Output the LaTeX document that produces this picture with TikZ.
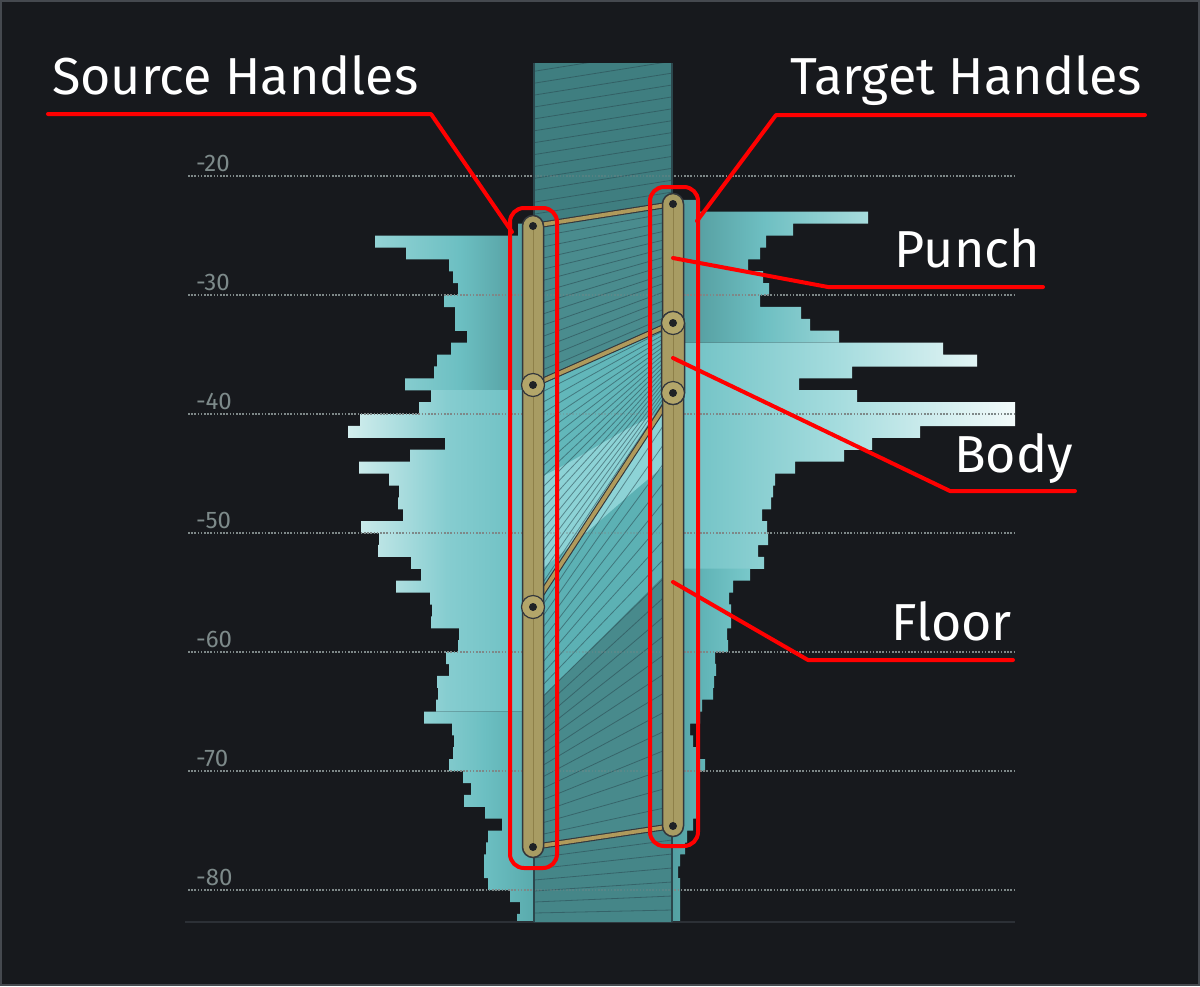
\documentclass[tikz,border=0pt]{standalone}
\usepackage{fontspec}
\setmainfont{Fira Sans}
\definecolor{bg}{HTML}{17191D}
\definecolor{framec}{HTML}{45494F}
\definecolor{gridc}{HTML}{7E8888}
\definecolor{tickc}{HTML}{7D8A8A}
\definecolor{basec}{HTML}{2C3036}
\definecolor{colTop}{HTML}{3F7E80}
\definecolor{colPunch}{HTML}{4A8C8E}
\definecolor{colBody}{HTML}{62B7BA}
\definecolor{colFloor}{HTML}{5CB1B4}
\definecolor{colBand}{HTML}{8DD3D6}
\definecolor{colDark}{HTML}{488A8C}
\definecolor{colBot}{HTML}{458688}
\definecolor{mapc}{HTML}{294850}
\definecolor{edgec}{HTML}{2B474D}
\definecolor{gold}{HTML}{A89C63}
\definecolor{goldl}{HTML}{B3A66A}
\definecolor{goldline}{HTML}{B09A5B}
\definecolor{goldc}{HTML}{8E8049}
\definecolor{darkc}{HTML}{33373C}
\definecolor{dotc}{HTML}{1F2226}
\definecolor{callred}{HTML}{FF0000}
% histogram shading colours
\definecolor{lta}{HTML}{93D3D5}\definecolor{ltb}{HTML}{6CBFC2}\definecolor{ltc}{HTML}{4B9193}
\definecolor{lma}{HTML}{D3EEEE}\definecolor{lmb}{HTML}{86CDD0}\definecolor{lmc}{HTML}{66BCBF}
\definecolor{lba}{HTML}{8FD1D3}\definecolor{lbb}{HTML}{6CBFC2}\definecolor{lbc}{HTML}{55A6A8}
\definecolor{rta}{HTML}{4A8F91}\definecolor{rtb}{HTML}{6EBFC2}\definecolor{rtc}{HTML}{A7DCDD}
\definecolor{rma}{HTML}{68BEC1}\definecolor{rmb}{HTML}{A5DCDE}\definecolor{rmc}{HTML}{F2FAFA}
\definecolor{rba}{HTML}{4D9799}\definecolor{rbb}{HTML}{62B5B8}\definecolor{rbc}{HTML}{78C8CA}
\pgfdeclarehorizontalshading{shLT}{100bp}{color(0bp)=(lta); color(25bp)=(lta); color(50bp)=(ltb); color(75bp)=(ltc); color(100bp)=(ltc)}
\pgfdeclarehorizontalshading{shLM}{100bp}{color(0bp)=(lma); color(25bp)=(lma); color(50bp)=(lmb); color(75bp)=(lmc); color(100bp)=(lmc)}
\pgfdeclarehorizontalshading{shLB}{100bp}{color(0bp)=(lba); color(25bp)=(lba); color(50bp)=(lbb); color(75bp)=(lbc); color(100bp)=(lbc)}
\pgfdeclarehorizontalshading{shRT}{100bp}{color(0bp)=(rta); color(25bp)=(rta); color(50bp)=(rtb); color(75bp)=(rtc); color(100bp)=(rtc)}
\pgfdeclarehorizontalshading{shRM}{100bp}{color(0bp)=(rma); color(25bp)=(rma); color(50bp)=(rmb); color(75bp)=(rmc); color(100bp)=(rmc)}
\pgfdeclarehorizontalshading{shRB}{100bp}{color(0bp)=(rba); color(25bp)=(rba); color(50bp)=(rbb); color(75bp)=(rbc); color(100bp)=(rbc)}
\tikzset{
  lbl/.style={text=white, inner sep=0pt, font=\fontsize{52}{60}\selectfont},
  ticklbl/.style={text=tickc, inner sep=0pt, font=\fontsize{24}{28}\selectfont},
  gridline/.style={draw=gridc, line width=1.6pt, dash pattern=on 1.6pt off 1.6pt},
  mapline/.style={draw=mapc, line width=0.8pt, opacity=0.55},
  callout/.style={draw=callred, line width=4pt, line cap=round, line join=round},
  hlbox/.style={draw=callred, line width=4pt, rounded corners=14pt},
  connout/.style={draw=darkc, line width=6pt, line cap=round},
  connin/.style={draw=goldline, line width=3.8pt, line cap=round},
  capsule/.style={fill=gold, draw=darkc, line width=1.5pt},
  handle/.style={circle, fill=goldl, draw=darkc, line width=1.2pt, minimum size=23pt, inner sep=0pt},
  hdot/.style={circle, fill=dotc, minimum size=8pt, inner sep=0pt},
}
\begin{document}
\begin{tikzpicture}[x=1pt, y=-1pt]
\useasboundingbox (0,0) rectangle (1200,986);
\fill[bg] (0,0) rectangle (1200,986);
\draw[framec, line width=2pt] (1,1) rectangle (1199,985);

% ---------- histogram bars ----------
\begin{scope}
\clip (0,0) rectangle (1200,922);
\path[shading=shLT] \foreach \k/\x in {1/518,2/375,3/406,4/449,5/453,6/458,7/444,8/455,9/455,10/467,11/451,12/437,13/434,14/405}
  {({\x},{211.7+11.9*\k}) rectangle (545,{223.7+11.9*\k})};
\path[shading=shLM] \foreach \k/\x in {15/431,16/419,17/360,18/348,19/445,20/410,21/359,22/389,23/399,24/398,25/403,26/361,27/379,28/378,29/411,30/421,31/396,32/430,33/432,34/431,35/459,36/458,37/446,38/449,39/437,40/438,41/436}
  {({\x},{211.7+11.9*\k}) rectangle (545,{223.7+11.9*\k})};
\path[shading=shLB] \foreach \k/\x in {42/424,43/452,44/454,45/453,46/449,47/463,48/471,49/464,50/485,51/502,52/488,53/486,54/484,55/484,56/488,57/510,58/520,59/517}
  {({\x},{211.7+11.9*\k}) rectangle (545,{223.7+11.9*\k})};
\path[shading=shRT] \foreach \k/\x in {-1/697,0/868,1/793,2/766,3/760,4/748,5/763,6/769,7/760,8/801,9/810,10/839}
  {(660,{211.7+11.9*\k}) rectangle ({\x},{223.7+11.9*\k})};
\path[shading=shRM] \foreach \k/\x in {11/943,12/977,13/852,14/799,15/857,16/1015,17/1015,18/920,19/872,20/844,21/795,22/775,23/773,24/771,25/762,26/767,27/768,28/758,29/764}
  {(660,{211.7+11.9*\k}) rectangle ({\x},{223.7+11.9*\k})};
\path[shading=shRB] \foreach \k/\x in {30/750,31/733,32/729,33/731,34/731,35/727,36/728,37/715,38/716,39/714,40/713,41/702,42/700,43/690,44/693,45/696,46/705,47/697,48/697,49/697,50/699,51/693,52/687,53/685,54/680,55/678,56/680,57/680,58/680,59/680}
  {(660,{211.7+11.9*\k}) rectangle ({\x},{223.7+11.9*\k})};
\end{scope}

% ---------- grid ----------
\foreach \v/\yy in {20/176,30/295,40/414,50/533,60/652,70/771,80/890}{
  \draw[gridline] (188,\yy) -- (1015,\yy);
  \node[ticklbl, anchor=base west] (tick\v) at (196,{\yy-4.5}) {-\v};
}
\draw[basec, line width=1.5pt] (185,922) -- (1015,922);

% ---------- warped column ----------
\begin{scope}
\clip (534,63) rectangle (672,922);
\fill[colTop] (534,63) rectangle (672,922);
\fill[colPunch] (534,226) -- (672,204) -- (672,323) -- (534,385) -- cycle;
\fill[colBody] (534,385) -- (672,323) -- (672,393) -- (534,607) -- cycle;
\fill[colFloor] (534,607) -- (672,393) -- (672,826) -- (534,847) -- cycle;
\fill[colBand] (534,480) .. controls (580,460) and (620,428) .. (672,408) -- (672,460) .. controls (630,492) and (590,532) .. (534,575) -- cycle;
\fill[colDark] (534,705) -- (672,568) -- (672,826) -- (534,847) -- cycle;
\fill[colBot] (534,847) -- (672,826) -- (672,922) -- (534,922) -- cycle;
\foreach \i in {1,...,14} \draw[mapline] (534,{226-11.9*\i}) -- (672,{204-11.9*\i});
\foreach \i in {1,...,13} \draw[mapline] (534,{226+159/14*\i}) -- (672,{204+119/14*\i});
\foreach \i in {1,...,19} \draw[mapline] (534,{385+222/20*\i}) -- (672,{323+70/20*\i});
\foreach \i in {1,...,21} \draw[mapline] (534,{607+240/22*\i}) -- (672,{393+433/22*\i});
\foreach \i in {1,...,7} \draw[mapline] (534,{847+11*\i}) -- (672,{826+14*\i});
\foreach \yy in {176,295,414,533,652,771,890} \draw[gridline, opacity=0.35] (534,\yy) -- (672,\yy);
\end{scope}
\draw[edgec, line width=1.3pt] (534,63) -- (534,922);
\draw[edgec, line width=1.3pt] (672,63) -- (672,922);

% ---------- handle nodes ----------
\coordinate (s1) at (533,226); \coordinate (s2) at (533,385);
\coordinate (s3) at (533,607); \coordinate (s4) at (533,847);
\coordinate (t1) at (673,204); \coordinate (t2) at (673,323);
\coordinate (t3) at (673,393); \coordinate (t4) at (673,826);

% connectors between handles
\foreach \a/\b in {s1/t1,s2/t2,s3/t3,s4/t4}{
  \draw[connout] (\a) -- (\b);
  \draw[connin] (\a) -- (\b);
}

% handle bars
\draw[capsule, rounded corners=10.5pt] (522.5,215.5) rectangle (543.5,857.5);
\draw[goldc, line width=1pt] (s1) -- (s4);
\draw[capsule, rounded corners=10.5pt] (662.5,193.5) rectangle (683.5,836.5);
\draw[goldc, line width=1pt] (t1) -- (t4);
\draw[capsule, rounded corners=11.5pt] (661.5,311.5) rectangle (684.5,404.5);
\draw[goldc, line width=1pt] (t2) -- (t3);

\node[handle] (hs2) at (s2) {};
\node[handle] (hs3) at (s3) {};
\node[handle] (ht2) at (t2) {};
\node[handle] (ht3) at (t3) {};
\foreach \p in {s1,s2,s3,s4,t1,t2,t3,t4} \node[hdot] (d\p) at (\p) {};

% ---------- callouts ----------
\draw[hlbox] (510,208) rectangle (557,868);
\draw[hlbox] (650,187) rectangle (698,846);

\node[lbl, anchor=base west] (srclbl) at (52,94) {Source Handles};
\node[lbl, anchor=base east] (tgtlbl) at (1142,94) {Target Handles};
\node[lbl, anchor=base east] (punchlbl) at (1040,267) {Punch};
\node[lbl, anchor=base east] (bodylbl) at (1073,472) {Body};
\node[lbl, anchor=base east] (floorlbl) at (1012,640) {Floor};

\coordinate (srcA) at (48,114); \coordinate (srcB) at (431,114); \coordinate (srcC) at (512,232);
\coordinate (tgtA) at (1145,115); \coordinate (tgtB) at (776,115); \coordinate (tgtC) at (697,221);
\coordinate (punA) at (673,258); \coordinate (punB) at (828,287); \coordinate (punC) at (1043,287);
\coordinate (bodA) at (673,358); \coordinate (bodB) at (950,491); \coordinate (bodC) at (1075,491);
\coordinate (floA) at (673,582); \coordinate (floB) at (808,660); \coordinate (floC) at (1013,660);
\draw[callout] (srcA) -- (srcB) -- (srcC);
\draw[callout] (tgtA) -- (tgtB) -- (tgtC);
\draw[callout] (punA) -- (punB) -- (punC);
\draw[callout] (bodA) -- (bodB) -- (bodC);
\draw[callout] (floA) -- (floB) -- (floC);
\end{tikzpicture}
\end{document}
